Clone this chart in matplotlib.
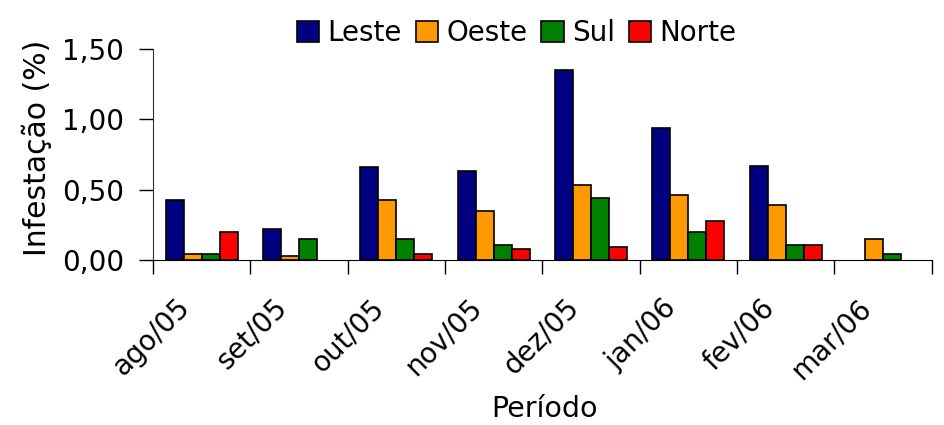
import numpy as np
import matplotlib
matplotlib.use('Agg')
import matplotlib.pyplot as plt
import matplotlib.transforms as mtransforms
from matplotlib.ticker import FuncFormatter

# dados
periodos = ['ago/05', 'set/05', 'out/05', 'nov/05', 'dez/05', 'jan/06', 'fev/06', 'mar/06']
leste = [0.43, 0.22, 0.66, 0.63, 1.35, 0.94, 0.67, 0.0]
oeste = [0.04, 0.03, 0.43, 0.35, 0.53, 0.46, 0.39, 0.15]
sul = [0.04, 0.15, 0.15, 0.11, 0.44, 0.20, 0.11, 0.04]
norte = [0.20, 0.0, 0.04, 0.08, 0.09, 0.28, 0.11, 0.0]

series = [('Leste', leste, '#000080'),
          ('Oeste', oeste, '#FF9900'),
          ('Sul', sul, '#008000'),
          ('Norte', norte, '#FF0000')]

plt.rcParams['font.family'] = ['DejaVu Sans']
plt.rcParams['font.size'] = 20

fig = plt.figure(figsize=(9.44, 4.25), dpi=100)
ax = fig.add_axes([0.162, 0.388, 0.825, 0.497])

x = np.arange(len(periodos))
w = 0.185
for i, (nome, vals, cor) in enumerate(series):
    # zero não aparece no Excel
    h = np.where(np.array(vals) == 0, np.nan, vals)
    ax.bar(x + (i - 1.5) * w, h, width=w, color=cor, edgecolor='black',
           linewidth=1.2, label=nome)

ax.set_xlim(-0.5, len(periodos) - 0.5)
ax.set_ylim(0, 1.5)
ax.set_yticks([0, 0.5, 1.0, 1.5])
ax.yaxis.set_major_formatter(FuncFormatter(lambda v, p: f'{v:.2f}'.replace('.', ',')))

# ticks nas divisões entre categorias
ax.set_xticks(np.arange(-0.5, len(periodos) - 0.4, 1))
ax.set_xticklabels([])
ax.set_xticks(x, minor=True)
ax.set_xticklabels(periodos, minor=True, rotation=45, ha='right', rotation_mode='anchor')
ax.tick_params(axis='x', which='minor', length=0, pad=14)
ax.tick_params(axis='x', which='major', length=10, width=1, direction='out')
ax.tick_params(axis='y', length=10, width=1, direction='out', pad=11)

off = mtransforms.ScaledTranslation(-0.26, -0.14, fig.dpi_scale_trans)
for lab in ax.get_xticklabels(minor=True):
    lab.set_transform(lab.get_transform() + off)

for s in ['top', 'right']:
    ax.spines[s].set_visible(False)
ax.spines['left'].set_color('#333333')
ax.spines['bottom'].set_color('black')

ax.set_ylabel('Infestação (%)', fontsize=21.5, va='center')
ax.yaxis.set_label_coords((37 - 153) / 779, 0.53)
ax.set_xlabel('Período', fontsize=20.5, va='baseline')
ax.xaxis.set_label_coords(0.503, -0.745)

ax.legend(loc='center', bbox_to_anchor=(0.467, 1.076), ncol=4, frameon=False,
          handlelength=0.8, handleheight=0.8, handletextpad=0.3, columnspacing=0.5,
          borderaxespad=0, borderpad=0)

fig.savefig('out.png', dpi=100)
